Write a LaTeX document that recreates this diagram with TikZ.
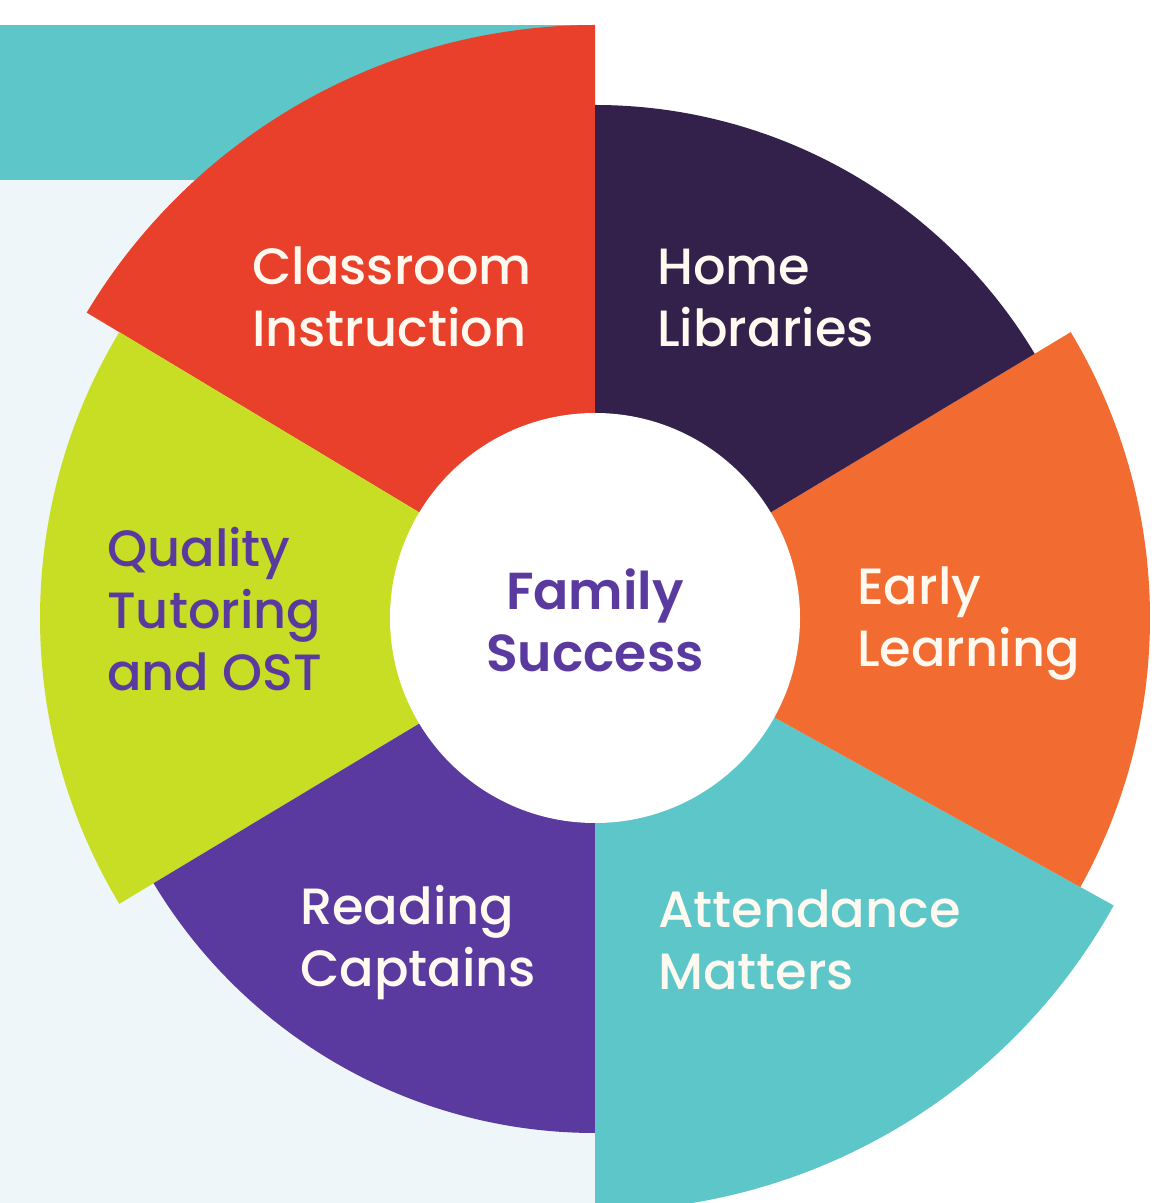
\documentclass[tikz,border=0pt]{standalone}
\usepackage{fontspec}
\setmainfont{Poppins}[UprightFont={* Medium},BoldFont={* SemiBold}]
\definecolor{redS}{HTML}{E8402A}
\definecolor{darkS}{HTML}{33204B}
\definecolor{orangeS}{HTML}{F26B30}
\definecolor{tealS}{HTML}{5CC6C9}
\definecolor{purpleS}{HTML}{5B3A9F}
\definecolor{limeS}{HTML}{C7DE24}
\definecolor{paleS}{HTML}{EEF6F9}
\definecolor{txtS}{HTML}{FFF9F0}
\tikzset{
  lbl/.style={inner sep=0pt, anchor=base west, text=txtS, font=\fontsize{51}{62}\selectfont},
  lblp/.style={lbl, text=purpleS},
  ctr/.style={inner sep=0pt, anchor=base, text=purpleS, font=\fontsize{52}{62}\selectfont\bfseries}
}
\newcommand{\twolines}[2]{\begin{tabular}[t]{@{}l@{}}#1\\#2\end{tabular}}
\begin{document}
\begin{tikzpicture}[x=1pt,y=1pt]
\useasboundingbox (0,0) rectangle (1158,1203);
\clip (0,0) rectangle (1158,1203);
\fill[white] (0,0) rectangle (1158,1203);
\fill[paleS] (0,0) rectangle (595,1023);
\fill[tealS] (0,1023) rectangle (595,1178);
\coordinate (C) at (595,585);
% sectors
\fill[redS]    (C) -- ++(90:593)  arc[start angle=90,  end angle=149, radius=593] -- cycle;
\fill[limeS]   (C) -- ++(149:555) arc[start angle=149, end angle=211, radius=555] -- cycle;
\fill[purpleS] (C) -- ++(211:515) arc[start angle=211, end angle=270, radius=515] -- cycle;
\fill[tealS]   (C) -- ++(270:593) arc[start angle=270, end angle=331, radius=593] -- cycle;
\fill[orangeS] (C) -- ++(-29:555) arc[start angle=-29, end angle=31,  radius=555] -- cycle;
\fill[darkS]   (C) -- ++(31:513)  arc[start angle=31,  end angle=90,  radius=513] -- cycle;
\fill[white] (C) circle[radius=205];
% labels
\node[lbl]  (ci) at (252,918) {\twolines{Classroom}{Instruction}};
\node[lbl]  (hl) at (657,918) {\twolines{Home}{Libraries}};
\node[lbl]  (el) at (857,598) {\twolines{Early}{Learning}};
\node[lbl]  (am) at (658,275) {\twolines{Attendance}{Matters}};
\node[lbl]  (rc) at (300,278) {\twolines{Reading}{Captains}};
\node[lblp] (qt) at (107,636) {\begin{tabular}[t]{@{}l@{}}Quality\\Tutoring\\and OST\end{tabular}};
\node[ctr]  (fs) at (595,593) {\begin{tabular}[t]{@{}c@{}}Family\\Success\end{tabular}};
\end{tikzpicture}
\end{document}
